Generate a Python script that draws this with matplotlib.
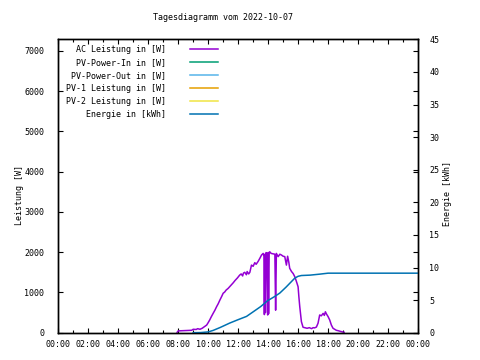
import numpy as np
import matplotlib
matplotlib.use("Agg")
import matplotlib.pyplot as plt

plt.rcParams['font.family'] = ['DejaVu Sans Mono']
plt.rcParams['font.size'] = 6.0

# Daten
titel = "Tagesdiagramm vom 2022-10-07"
namen = ["AC Leistung in [W]", "PV-Power-In in [W]", "PV-Power-Out in [W]",
         "PV-1 Leistung in [W]", "PV-2 Leistung in [W]", "Energie in [kWh]"]
farben = ["#9400d3", "#009e73", "#56b4e9", "#e69f00", "#f0e442", "#0072b2"]

ac_stunden = [7.93, 8.0, 8.3, 8.6, 8.9, 9.0, 9.2, 9.3, 9.45, 9.6, 9.75, 9.9,
              10.0, 10.1, 10.2, 10.33, 10.45, 10.56, 10.67, 10.78, 10.9, 11.0,
              11.1, 11.2, 11.33, 11.5, 11.67, 11.8, 11.95, 12.1, 12.2, 12.3,
              12.35, 12.44, 12.55, 12.6, 12.7, 12.78, 12.89, 13.0, 13.11, 13.2,
              13.33, 13.45, 13.56, 13.67, 13.72, 13.75, 13.78, 13.82, 13.86,
              13.93, 13.97, 14.0, 14.03, 14.07, 14.11, 14.2, 14.33, 14.45,
              14.5, 14.55, 14.67, 14.78, 14.89, 15.0, 15.11, 15.22, 15.3,
              15.38, 15.44, 15.56, 15.67, 15.78, 15.89, 15.95, 16.0, 16.05,
              16.11, 16.22, 16.33, 16.44, 16.6, 16.75, 16.9, 17.0, 17.1,
              17.22, 17.33, 17.44, 17.55, 17.67, 17.75, 17.82, 17.9, 18.0,
              18.11, 18.22, 18.33, 18.44, 18.55, 18.67, 18.85, 19.07]
ac_watt = [10, 45, 50, 55, 60, 85, 80, 100, 85, 110, 150, 190,
           250, 315, 390, 480, 560, 645, 720, 810, 900, 980,
           1010, 1060, 1100, 1170, 1240, 1300, 1360, 1430, 1460, 1410,
           1480, 1500, 1440, 1520, 1460, 1500, 1680, 1650, 1740, 1700,
           1770, 1850, 1930, 1970, 1900, 450, 1950, 500, 1990,
           1960, 440, 1990, 470, 2000, 2010, 1970, 1960, 1950,
           560, 1970, 1890, 1950, 1930, 1900, 1890, 1680, 1900,
           1750, 1600, 1520, 1470, 1390, 1270, 1200, 1140, 900,
           650, 275, 135, 125, 110, 125, 100, 125, 120,
           140, 235, 440, 420, 480, 430, 520, 460, 400,
           315, 190, 110, 85, 60, 50, 30, 10]

# PV-Reihen ohne Daten
pv_in = []
pv_out = []
pv1 = []
pv2 = []

e_stunden = [9.0, 9.5, 10.0, 10.33, 10.8, 11.44, 12.0, 12.56, 13.0, 13.5,
             13.96, 14.4, 14.78, 15.2, 15.78, 16.0, 16.22, 16.8, 17.44,
             18.0, 24.0]
e_kwh = [0.0, 0.02, 0.12, 0.35, 0.8, 1.48, 2.0, 2.5, 3.2, 4.0,
         4.9, 5.5, 6.08, 7.0, 8.37, 8.65, 8.77, 8.83, 8.98,
         9.13, 9.13]

x_ticks = np.arange(0, 25, 2)
x_labels = ["%02d:00" % (h % 24) for h in x_ticks]

fig = plt.figure(figsize=(4.8, 3.6), dpi=100)
ax = fig.add_axes([58.3/480, 1-332.7/360, (418-58.3)/480, (332.7-39.3)/360])
ax2 = ax.twinx()

ax.plot(ac_stunden, ac_watt, color=farben[0], lw=1.1)
ax.plot(pv_in, pv_in, color=farben[1], lw=1.1)
ax.plot(pv_out, pv_out, color=farben[2], lw=1.1)
ax.plot(pv1, pv1, color=farben[3], lw=1.1)
ax.plot(pv2, pv2, color=farben[4], lw=1.1)
ax2.plot(e_stunden, e_kwh, color=farben[5], lw=1.1)

ax.set_xlim(0, 24)
ax.set_ylim(0, 7290)
ax2.set_ylim(0, 45)
ax.set_xticks(x_ticks)
ax.set_xticklabels(x_labels)
ax.set_xticks(np.arange(0, 25, 1), minor=True)
ax.set_yticks(np.arange(0, 7001, 1000))
ax2.set_yticks(np.arange(0, 46, 5))

ax.tick_params(which='major', direction='in', length=3.5, width=0.8,
               top=True, right=True, pad=5)
ax.tick_params(which='minor', direction='in', length=2, width=0.8, top=True)
ax.tick_params(axis='y', which='major', pad=10)
ax2.tick_params(direction='in', length=3.5, width=0.8, pad=8)
for a in (ax, ax2):
    for s in a.spines.values():
        s.set_linewidth(1)

fig.text(19/480, 1-195/360, "Leistung [W]", rotation=90, ha='center', va='center')
fig.text(447/480, 1-194/360, "Energie [kWh]", rotation=90, ha='center', va='center')
fig.text(223/480, 1-17/360, titel, ha='center', va='center')

# Legende im gnuplot-Stil
y0 = 0.966
for i in range(len(namen)):
    y = y0 - i*0.0443
    ax.text(0.30, y, namen[i], transform=ax.transAxes, ha='right', va='center')
    ax.plot([0.366, 0.444], [y, y], transform=ax.transAxes,
            color=farben[i], lw=1.1)

fig.savefig("out.png", dpi=100)
